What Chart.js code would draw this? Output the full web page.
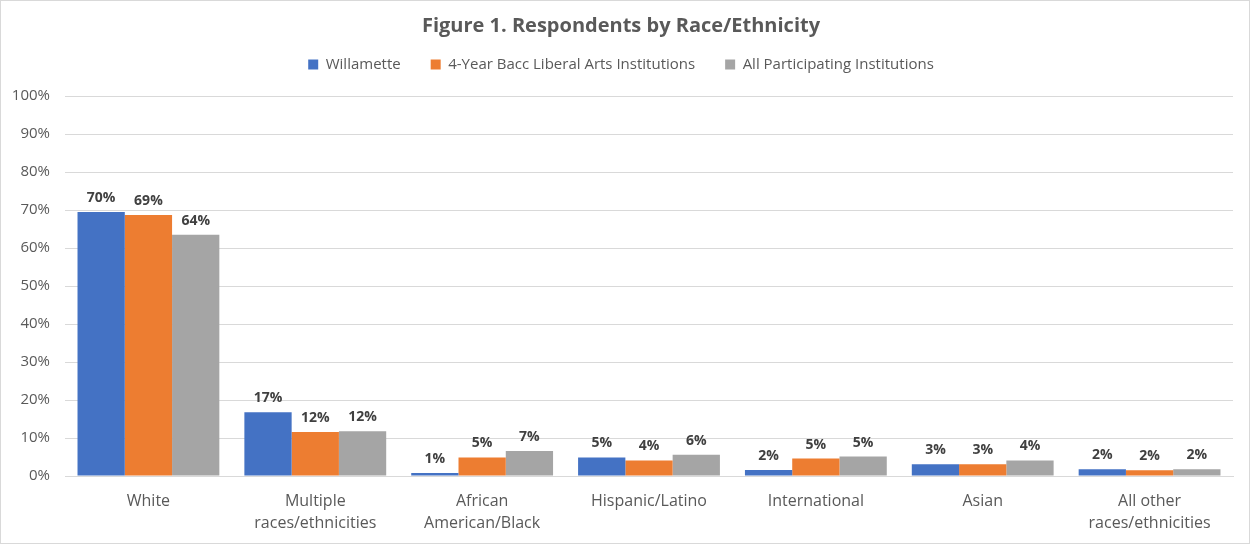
<!DOCTYPE html>
<html>
<head>
<meta charset="utf-8">
<script src="https://cdn.jsdelivr.net/npm/chart.js@4.4.1/dist/chart.umd.min.js"></script>
<style>
  html, body { margin: 0; padding: 0; background: #fff; }
  #wrap { position: relative; width: 1248px; height: 542px; border: 1px solid #d9d9d9; }
</style>
</head>
<body>
<div id="wrap"><canvas id="raceChart"></canvas></div>
<script>
const categories = [
    "White",
    ["Multiple", "races/ethnicities"],
    ["African", "American/Black"],
    "Hispanic/Latino",
    "International",
    "Asian",
    ["All other", "races/ethnicities"]
];
const willamette = [69.5, 16.8, 0.8, 4.9, 1.6, 3.1, 1.8];
const bacc = [68.7, 11.6, 4.9, 4.1, 4.6, 3.1, 1.5];
const allInst = [63.5, 11.8, 6.6, 5.6, 5.1, 4.1, 1.8];

const FONT = "'Open Sans', 'Liberation Sans', sans-serif";

// draws the rounded percentage above each bar
const barLabels = {
    id: "barLabels",
    afterDatasetsDraw(chart) {
        const ctx = chart.ctx;
        ctx.save();
        ctx.font = "bold 14px " + FONT;
        ctx.fillStyle = "#404040";
        ctx.textAlign = "center";
        ctx.textBaseline = "bottom";
        chart.data.datasets.forEach((ds, i) => {
            chart.getDatasetMeta(i).data.forEach((bar, j) => {
                ctx.fillText(Math.round(ds.data[j]) + "%", bar.x, bar.y - 7);
            });
        });
        ctx.restore();
    }
};

// a bit more room between the legend row and the plot
const legendGap = {
    id: "legendGap",
    beforeInit(chart) {
        const fit = chart.legend.fit;
        chart.legend.fit = function () {
            fit.call(this);
            this.height += 14;
        };
    }
};

new Chart(document.getElementById("raceChart"), {
    type: "bar",
    data: {
        labels: categories,
        datasets: [
            { label: "Willamette", data: willamette, backgroundColor: "#4472C4" },
            { label: "4-Year Bacc Liberal Arts Institutions", data: bacc, backgroundColor: "#ED7D31" },
            { label: "All Participating Institutions", data: allInst, backgroundColor: "#A5A5A5" }
        ]
    },
    options: {
        responsive: true,
        maintainAspectRatio: false,
        animation: false,
        datasets: { bar: { barPercentage: 1, categoryPercentage: 0.85 } },
        layout: { padding: { left: 8, right: 16, top: 8, bottom: 10 } },
        plugins: {
            title: {
                display: true,
                text: "Figure 1. Respondents by Race/Ethnicity",
                color: "#595959",
                font: { family: FONT, size: 20, weight: "bold", lineHeight: 1.2 },
                padding: { top: 5, bottom: -11 }
            },
            legend: {
                labels: {
                    color: "#595959",
                    font: { family: FONT, size: 15 },
                    boxWidth: 10,
                    boxHeight: 10,
                    padding: 30
                }
            },
            tooltip: { enabled: false }
        },
        scales: {
            x: {
                afterFit: s => { s.height = 57; },
                grid: { display: false },
                border: { color: "#d9d9d9" },
                ticks: {
                    padding: 6,
                    color: "#595959",
                    font: { family: FONT, size: 16, lineHeight: 1.375 }
                }
            },
            y: {
                min: 0,
                max: 100,
                afterFit: s => { s.width = 56; },
                grid: { color: "#d9d9d9", drawTicks: false },
                border: { display: false },
                ticks: {
                    stepSize: 10,
                    padding: 15,
                    color: "#595959",
                    font: { family: FONT, size: 15 },
                    callback: v => v + "%"
                }
            }
        }
    },
    plugins: [barLabels, legendGap]
});
</script>
</body>
</html>
